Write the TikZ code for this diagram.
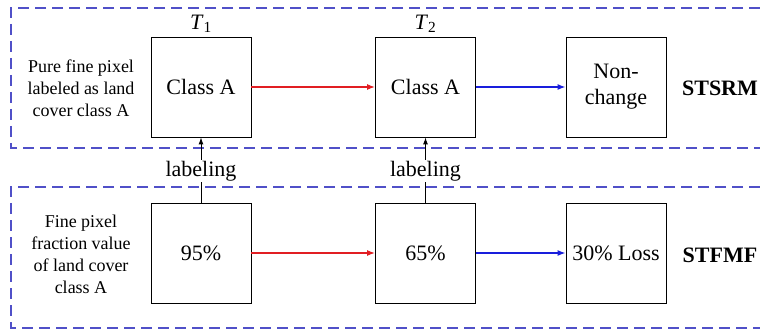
\documentclass[tikz,border=0pt]{standalone}
\usepackage{fontspec}
\setmainfont{Liberation Serif}
\usetikzlibrary{arrows.meta}
\definecolor{panelblue}{RGB}{80,80,200}
\definecolor{arrred}{RGB}{225,30,35}
\definecolor{arrblue}{RGB}{25,30,220}
\begin{document}
\begin{tikzpicture}[x=1pt, y=-1pt,
                    font=\fontsize{22}{26}\selectfont,
                    panel/.style={draw=panelblue, line width=1.4pt, dash pattern=on 11pt off 6pt},
                    cell/.style={draw, line width=0.9pt, minimum width=100pt, minimum height=100pt, inner sep=0pt, align=center},
                    side/.style={font=\fontsize{18}{22}\selectfont, align=center},
                    tag/.style={font=\fontsize{22}{26}\selectfont\bfseries},
                    redarrow/.style={-{Latex[length=8pt,width=6pt]}, arrred, line width=1.2pt},
                    bluearrow/.style={-{Latex[length=8pt,width=6pt]}, arrblue, line width=1.2pt},
                    uparrow/.style={-{Latex[length=7pt,width=5pt]}, line width=0.9pt}
                ]
                \useasboundingbox (0,0) rectangle (760,331);

                % Panel 1 (open at the right border)
                \draw[panel] (760,8) -- (11,8) -- (11,148) -- (760,148);
                \node[side] (txtA) at (81,88) {Pure fine pixel\\labeled as land\\cover class A};

                \node[cell] (a1) at (201,87) {Class A};
                \node[cell] (a2) at (425.5,87) {Class A};
                \node[cell] (a3) at (616,87) {Non-\\change};
                \node (t1) at (201,24) {\textit{T}\textsubscript{1}};
                \node (t2) at (425.5,24) {\textit{T}\textsubscript{2}};
                \node[tag] (stsrm) at (720,88) {STSRM};

                \draw[redarrow] (a1) -- (a2);
                \draw[bluearrow] (a2) -- (a3);

                % Panel 2
                \draw[panel] (760,187) -- (11,187) -- (11,328) -- (760,328);
                \node[side] (txtB) at (81,254) {Fine pixel\\fraction value\\of land cover\\class A};

                \node[cell] (b1) at (201,253) {95\%};
                \node[cell] (b2) at (425.5,253) {65\%};
                \node[cell] (b3) at (616,253) {30\% Loss};
                \node[tag] (stfmf) at (720,255) {STFMF};

                \draw[redarrow] (b1) -- (b2);
                \draw[bluearrow] (b2) -- (b3);

                % labeling links
                \node[inner sep=1pt] (lab1) at (201,171) {labeling};
                \node[inner sep=1pt] (lab2) at (425.5,171) {labeling};
                \draw[line width=0.9pt] (b1.north) -- (lab1.south);
                \draw[line width=0.9pt] (b2.north) -- (lab2.south);
                \draw[uparrow] (lab1.north) -- (a1.south);
                \draw[uparrow] (lab2.north) -- (a2.south);

            \end{tikzpicture}
\end{document}
